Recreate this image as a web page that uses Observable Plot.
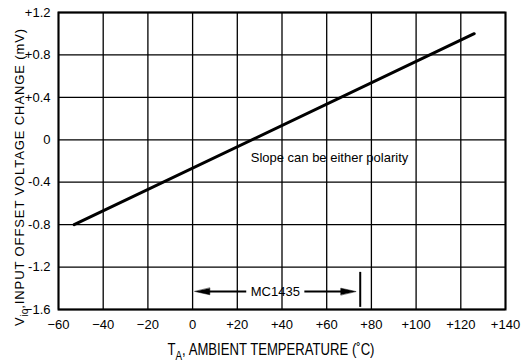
<!DOCTYPE html>
<html>
<head>
<meta charset="utf-8">
<script src="https://cdn.jsdelivr.net/npm/d3@7"></script>
<script src="https://cdn.jsdelivr.net/npm/@observablehq/plot@0.6"></script>
<style>
  body { margin: 0; background: #fff; }
  #chart svg { display: block; }
</style>
</head>
<body>
<div id="chart"></div>
<script>
// Input offset voltage change vs ambient temperature (end points of the straight line)
const temps = [-53, 126];          // °C
const offsets = [-0.8, 1.0];       // mV

// Axis ticks and their printed labels
const xTicks = [-60, -40, -20, 0, 20, 40, 60, 80, 100, 120, 140];
const xTickLabels = ["−60", "−40", "−20", "0", "+20", "+40", "+60", "+80", "+100", "+120", "+140"];
const yTicks = [-1.6, -1.2, -0.8, -0.4, 0, 0.4, 0.8, 1.2];
const yTickLabels = ["−1.6", "-1.2", "-0.8", "-0.4", "0", "+0.4", "+0.8", "+1.2"];

// Annotations
const noteText = "Slope can be either polarity";
const noteAt = {x: 26, y: -0.17};
const rangeName = "MC1435";
const rangeY = -1.43;
const rangeLeftTip = 1, rangeLeftLine = 24;        // left arrow: from label to tip
const rangeRightLine = 50, rangeRightTip = 73;     // right arrow: from label to tip
const rangeLabelX = 37;
const rangeBarX = 75, rangeBarY = [-1.25, -1.58];

const FONT = "'Liberation Sans', Arial, Helvetica, sans-serif";

const line = temps.map((t, i) => ({t, v: offsets[i]}));

// filled arrowhead pointing along the vector, tip at the anchor point
const head = {
  draw(context, l) {
    context.moveTo(0, -l);
    context.lineTo(-3.3, 0);
    context.lineTo(3.3, 0);
    context.closePath();
  }
};

const chart = Plot.plot({
  width: 522,
  height: 364,
  marginLeft: 58,
  marginRight: 17,
  marginTop: 12,
  marginBottom: 55,
  style: {fontFamily: FONT, fontSize: "13px", color: "black", background: "white"},
  x: {domain: [-60, 140]},
  y: {domain: [-1.6, 1.2]},
  marks: [
    Plot.gridX(xTicks, {stroke: "black", strokeOpacity: 1, strokeWidth: 1.3}),
    Plot.gridY(yTicks, {stroke: "black", strokeOpacity: 1, strokeWidth: 1.3}),
    Plot.frame({stroke: "black", strokeWidth: 2}),
    Plot.axisX(xTicks, {tickSize: 0, tickPadding: 10, label: null,
      tickFormat: d => xTickLabels[xTicks.indexOf(d)]}),
    Plot.axisY(yTicks, {tickSize: 0, tickPadding: 8, label: null,
      tickFormat: d => yTickLabels[yTicks.indexOf(d)]}),
    Plot.line(line, {x: "t", y: "v", stroke: "black", strokeWidth: 3}),
    Plot.text([noteText], {x: noteAt.x, y: noteAt.y, text: d => d, textAnchor: "start", fontSize: 13}),
    // MC1435 operating range
    Plot.link([{x1: rangeLeftLine, x2: rangeLeftTip + 6}, {x1: rangeRightLine, x2: rangeRightTip - 6}],
      {x1: "x1", x2: "x2", y1: rangeY, y2: rangeY, stroke: "black", strokeWidth: 2}),
    Plot.vector([{x: rangeLeftTip, r: -90}, {x: rangeRightTip, r: 90}],
      {x: "x", y: rangeY, rotate: "r", length: 15, anchor: "end", shape: head,
       fill: "black", stroke: "black", strokeWidth: 0.5}),
    Plot.text([rangeName], {x: rangeLabelX, y: rangeY, text: d => d, fontSize: 13}),
    Plot.ruleX([rangeBarX], {y1: rangeBarY[0], y2: rangeBarY[1], stroke: "black", strokeWidth: 2})
  ]
});

document.getElementById("chart").appendChild(chart);

// Axis titles with subscripts
const svg = d3.select(chart);
const xTitle = svg.append("text")
  .attr("transform", "translate(271,355) scale(0.82,1)")
  .attr("text-anchor", "middle")
  .attr("font-size", 16)
  .attr("fill", "black");
xTitle.append("tspan").text("T");
xTitle.append("tspan").attr("dy", 5).attr("font-size", 12).text("A");
xTitle.append("tspan").attr("dy", -5).text(", AMBIENT TEMPERATURE (˚C)");

const yTitle = svg.append("text")
  .attr("transform", "translate(24,177) rotate(-90)")
  .attr("text-anchor", "middle")
  .attr("font-size", 13)
  .attr("letter-spacing", "0.9px")
  .attr("fill", "black");
yTitle.append("tspan").text("V");
yTitle.append("tspan").attr("dy", 4).attr("font-size", 10).attr("letter-spacing", "0px").text("io");
yTitle.append("tspan").attr("dy", -4).text(",INPUT OFFSET VOLTAGE CHANGE (mV)");
</script>
</body>
</html>
